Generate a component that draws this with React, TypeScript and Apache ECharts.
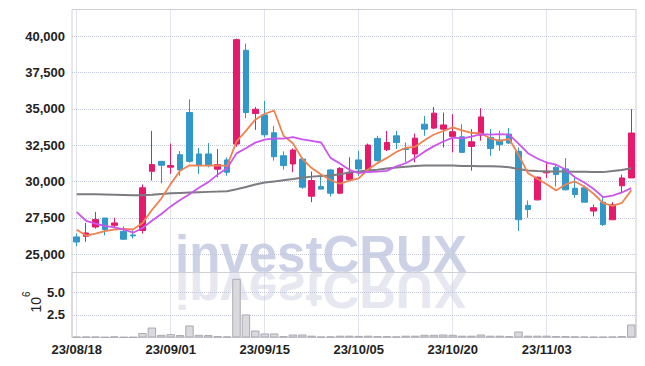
import React, { useEffect, useRef } from 'react';
import * as echarts from 'echarts';

const dates = [
  '23/08/18', '23/08/21', '23/08/22', '23/08/23', '23/08/24', '23/08/25', '23/08/28', '23/08/29', '23/08/30', '23/08/31',
  '23/09/01', '23/09/04', '23/09/05', '23/09/06', '23/09/07', '23/09/08', '23/09/11', '23/09/12', '23/09/13', '23/09/14',
  '23/09/15', '23/09/18', '23/09/19', '23/09/20', '23/09/21', '23/09/22', '23/09/25', '23/09/26', '23/09/27', '23/10/04',
  '23/10/05', '23/10/06', '23/10/10', '23/10/11', '23/10/12', '23/10/13', '23/10/16', '23/10/17', '23/10/18', '23/10/19',
  '23/10/20', '23/10/23', '23/10/24', '23/10/25', '23/10/26', '23/10/27', '23/10/30', '23/10/31', '23/11/01', '23/11/02',
  '23/11/03', '23/11/06', '23/11/07', '23/11/08', '23/11/09', '23/11/10', '23/11/13', '23/11/14', '23/11/15', '23/11/16',
];

const opens = [
  26190, 26230, 26870, 27490, 26990, 26580, 26320, 26630, 30710, 31390,
  30990, 31850, 34750, 31900, 31900, 30850, 31490, 32580, 39040, 34680,
  34590, 33360, 31780, 31210, 31550, 28990, 29660, 30800, 29200, 30140,
  31490, 30820, 32970, 32190, 33150, 32280, 31900, 33950, 33680, 33610,
  33110, 33080, 32420, 33200, 33040, 32860, 33270, 32080, 28360, 28740,
  30600, 30980, 30870, 29540, 29570, 27970, 28580, 27370, 29710, 30250,
];
const closes = [
  25840, 26460, 27380, 26690, 27150, 26030, 26260, 29570, 31170, 31120,
  31100, 30800, 31390, 31100, 31100, 31170, 30640, 39770, 34750, 34980,
  33220, 31710, 31100, 32170, 29610, 30070, 29480, 29200, 30910, 30640,
  30870, 32510, 31440, 32690, 32690, 32210, 32990, 33610, 34710, 33900,
  33430, 32010, 32740, 34450, 32280, 32540, 32650, 27370, 28080, 30300,
  30710, 30480, 29430, 29110, 28580, 28200, 27040, 28400, 30250, 33340,
];
const lows = [
  25550, 25850, 26760, 26300, 26870, 25990, 26080, 26420, 30070, 29880,
  30530, 30400, 31300, 30530, 30980, 30300, 30410, 32400, 34360, 33560,
  33040, 31440, 30820, 30640, 29500, 28580, 29470, 28970, 29130, 30020,
  30400, 30750, 31380, 32100, 32240, 31320, 31320, 33150, 33610, 32350,
  32010, 31960, 30750, 32810, 31780, 32120, 32600, 26600, 27510, 28700,
  30250, 29660, 29400, 28880, 28580, 27600, 26940, 27370, 29200, 30250,
];
const highs = [
  26420, 27150, 27900, 27500, 27510, 26920, 26650, 29800, 33490, 31420,
  32620, 32100, 35660, 32310, 32650, 32240, 31670, 39840, 39500, 35140,
  35550, 33840, 32080, 32280, 31670, 30690, 30410, 30870, 31000, 31670,
  32120, 32620, 33150, 33490, 33490, 32690, 33310, 34520, 35140, 34750,
  34640, 33950, 33610, 35050, 33610, 33490, 33680, 32350, 28700, 30350,
  31370, 31170, 31620, 30300, 29730, 28410, 28930, 28580, 30480, 34980,
];

const ma5 = [
  26690, 26280, 26420, 26580, 26700, 26740, 26700, 27140, 28040, 28830,
  29840, 30750, 31120, 31100, 31100, 31110, 31080, 32760, 33490, 34260,
  34670, 34890, 33150, 32640, 31560, 30930, 30490, 30110, 29850, 30060,
  30220, 30830, 31270, 31630, 32040, 32310, 32400, 32840, 33240, 33480,
  33730, 33530, 33360, 33310, 32980, 32800, 32930, 31860, 30580, 30190,
  29820, 29390, 29800, 30010, 29660, 29160, 28520, 28330, 28530, 29400,
];
const ma10 = [
  27900, 27300, 27100, 26950, 26850, 26700, 26480, 26800, 27300, 27770,
  28290, 28730, 29130, 29570, 29960, 30480, 30920, 31940, 32290, 32680,
  32890, 32980, 32950, 33060, 32910, 32800, 32690, 31630, 31250, 30810,
  30580, 30660, 30690, 30740, 31050, 31260, 31620, 32060, 32440, 32760,
  33020, 32970, 33100, 33270, 33230, 33270, 33230, 32610, 31950, 31590,
  31310, 31160, 30830, 30300, 29930, 29490, 28930, 29030, 29250, 29550,
];
const maLong = [
  29130, 29130, 29120, 29110, 29100, 29080, 29050, 29060, 29100, 29150,
  29190, 29220, 29250, 29270, 29290, 29310, 29340, 29470, 29620, 29800,
  29930, 30010, 30090, 30170, 30260, 30340, 30380, 30410, 30500, 30620,
  30700, 30760, 30820, 30900, 30960, 31020, 31070, 31100, 31110, 31110,
  31100, 31080, 31070, 31060, 31050, 31030, 30980, 30870, 30760, 30720,
  30700, 30690, 30690, 30680, 30670, 30650, 30650, 30720, 30800, 30920,
];
// volume in millions of shares
const volumes = [
  0.08, 0.1, 0.1, 0.05, 0.12, 0.05, 0.05, 0.5, 1.1, 0.3,
  0.37, 0.27, 1.33, 0.3, 0.27, 0.15, 0.12, 6.5, 2.55, 0.77,
  0.45, 0.45, 0.15, 0.33, 0.33, 0.2, 0.1, 0.12, 0.2, 0.2,
  0.18, 0.2, 0.15, 0.15, 0.12, 0.2, 0.2, 0.3, 0.3, 0.33,
  0.3, 0.2, 0.2, 0.33, 0.2, 0.2, 0.15, 0.66, 0.2, 0.2,
  0.2, 0.15, 0.15, 0.12, 0.1, 0.08, 0.08, 0.1, 0.15, 1.44,
];

const LABEL_FONT = '"Liberation Sans", Arial, sans-serif';
const GRID_LINE = '#c3c7dc';
const FRAME = '#cfd0d6';

export default function App() {
  const ref = useRef<HTMLDivElement>(null);
  useEffect(() => {
    if (!ref.current) return;
    const chart = echarts.init(ref.current, null, { renderer: 'svg' });
    const candles = dates.map((_, i) => [opens[i], closes[i], lows[i], highs[i]]);
    const labelStyle = {
      fontFamily: LABEL_FONT,
      fontSize: 13,
      fontWeight: 'bold' as const,
      color: '#222',
    };
    const dotted = { color: GRID_LINE, type: 'dotted' as const, width: 1 };
    const watermarkStyle = {
      x: 0,
      y: -17.7,
      text: 'investCRUX',
      fontFamily: '"Liberation Sans", Arial, sans-serif',
      fontWeight: 'bold',
      fontSize: 51,
      verticalAlign: 'middle',
      align: 'left',
    };
    chart.setOption({
      animation: false,
      backgroundColor: '#ffffff',
      graphic: [
        {
          type: 'text',
          x: 175,
          y: 271.7,
          z: -10,
          silent: true,
          style: { ...watermarkStyle, fill: '#ccd1e6' },
        },
        {
          type: 'text',
          x: 175,
          y: 271.7,
          scaleY: -1,
          z: -10,
          silent: true,
          style: { ...watermarkStyle, fill: '#e6e7f0' },
        },
        {
          type: 'text',
          x: 32,
          y: 302,
          rotation: Math.PI / 2,
          silent: true,
          style: {
            text: '{b|10}{s|6}',
            align: 'center',
            verticalAlign: 'middle',
            rich: {
              b: { fontFamily: LABEL_FONT, fontSize: 14, lineHeight: 21, verticalAlign: 'bottom', fill: '#222' },
              s: { fontFamily: LABEL_FONT, fontSize: 10, lineHeight: 10, verticalAlign: 'top', fill: '#222' },
            },
          },
        },
      ],
      grid: [
        { left: 72, right: 9, top: -1.5, height: 292 },
        { left: 72, right: 9, top: 272.5, height: 65, show: true, borderColor: FRAME, borderWidth: 1, backgroundColor: 'transparent' },
        { left: 72, right: 9, top: 9.5, height: 328, show: true, borderColor: FRAME, borderWidth: 1, backgroundColor: 'transparent' },
      ],
      xAxis: [
        { type: 'category', gridIndex: 0, data: dates, show: false },
        {
          type: 'category',
          gridIndex: 1,
          data: dates,
          axisLine: { show: false },
          axisTick: { show: false },
          splitLine: { show: false },
          axisLabel: { ...labelStyle, interval: 9, margin: 5 },
        },
        {
          type: 'category',
          gridIndex: 2,
          data: dates,
          axisLine: { show: false },
          axisTick: { show: false },
          axisLabel: { show: false },
          splitLine: { show: true, interval: 9, alignWithLabel: true, lineStyle: dotted },
        },
      ],
      yAxis: [
        {
          type: 'value',
          gridIndex: 0,
          min: 22500,
          max: 42500,
          interval: 2500,
          axisLine: { show: false },
          axisTick: { show: false },
          axisLabel: {
            ...labelStyle,
            margin: 7,
            showMinLabel: false,
            showMaxLabel: false,
            formatter: (v: number) => v.toLocaleString('en-US'),
          },
          splitLine: { show: true, showMinLine: false, showMaxLine: false, lineStyle: dotted },
        },
        {
          type: 'value',
          gridIndex: 1,
          min: 0,
          max: 7.19,
          interval: 2.5,
          axisLine: { show: false },
          axisTick: { show: false },
          axisLabel: {
            ...labelStyle,
            margin: 7,
            showMinLabel: false,
            showMaxLabel: false,
            formatter: (v: number) => v.toFixed(1),
          },
          splitLine: { show: true, showMinLine: false, showMaxLine: false, lineStyle: dotted },
        },
        { type: 'value', gridIndex: 2, show: false },
      ],
      series: [
        {
          type: 'bar',
          xAxisIndex: 1,
          yAxisIndex: 1,
          data: volumes,
          barWidth: '90%',
          itemStyle: { color: '#d9d9de', borderColor: '#a9a9b0', borderWidth: 1 },
          silent: true,
        },
        {
          type: 'candlestick',
          xAxisIndex: 0,
          yAxisIndex: 0,
          data: candles,
          barWidth: 6,
          itemStyle: {
            color: '#e6196b',
            color0: '#3297c9',
            borderColor: '#e6196b',
            borderColor0: '#3297c9',
            borderWidth: 1,
          },
          silent: true,
        },
        {
          type: 'line',
          xAxisIndex: 0,
          yAxisIndex: 0,
          data: maLong,
          symbol: 'none',
          lineStyle: { color: '#7b7b80', width: 2 },
          silent: true,
        },
        {
          type: 'line',
          xAxisIndex: 0,
          yAxisIndex: 0,
          data: ma5,
          symbol: 'none',
          lineStyle: { color: '#ef8350', width: 1.8 },
          silent: true,
        },
        {
          type: 'line',
          xAxisIndex: 0,
          yAxisIndex: 0,
          data: ma10,
          symbol: 'none',
          lineStyle: { color: '#cc55ee', width: 1.8 },
          silent: true,
        },
      ],
    });
    return () => chart.dispose();
  }, []);
  return (
    <div
      ref={ref}
      style={{ position: 'fixed', left: 0, top: 0, width: 645, height: 366, background: '#fff' }}
    />
  );
}
